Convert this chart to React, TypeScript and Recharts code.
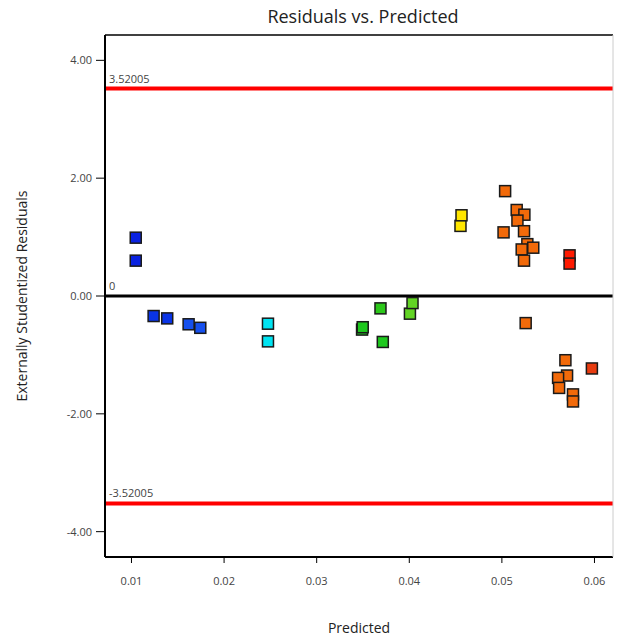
import {
  Cell,
  ReferenceLine,
  Scatter,
  ScatterChart,
  XAxis,
  YAxis,
} from "recharts";

// predicted / externally studentized residual pairs, grouped by marker colour
const blueX = [0.01046, 0.01046, 0.01239, 0.01386, 0.01617, 0.01743];
const blueY = [0.99, 0.6, -0.34, -0.38, -0.48, -0.54];
const cyanX = [0.02474, 0.02474];
const cyanY = [-0.47, -0.77];
const greenX = [0.0349, 0.03497, 0.03689, 0.03714, 0.04007, 0.04035];
const greenY = [-0.57, -0.53, -0.21, -0.78, -0.3, -0.12];
const yellowX = [0.04553, 0.04564];
const yellowY = [1.19, 1.37];
const orangeX = [
  0.05035, 0.05018, 0.0516, 0.05243, 0.05168, 0.05239, 0.05275, 0.05339,
  0.05214, 0.05239, 0.05257, 0.05686, 0.05704, 0.05607, 0.05618, 0.05768,
  0.05768,
];
const orangeY = [
  1.78, 1.08, 1.46, 1.38, 1.28, 1.1, 0.88, 0.82, 0.79, 0.6, -0.46, -1.09,
  -1.35, -1.39, -1.56, -1.67, -1.79,
];
const redX = [0.05731, 0.05731, 0.05972];
const redY = [0.69, 0.55, -1.23];

const xTicks = [0.01, 0.02, 0.03, 0.04, 0.05, 0.06];
const yTicks = [-4, -2, 0, 2, 4];
const xDomain = [0.00714, 0.062];
const yDomain = [-4.43, 4.43];
const limit = 3.52005;

const C = {
  blue: ["#0a22e0", "#0a22e0", "#0a34e6", "#0a34e6", "#1650ee", "#1650ee"],
  cyan: "#00e4f2",
  green: ["#1ec81e", "#1ec81e", "#2cc81a", "#1ec81e", "#62d424", "#62d424"],
  yellow: "#ffe600",
  orange: "#f26a0a",
  red: ["#ff1a00", "#ff1a00", "#e83c10"],
  text: "#444",
};

const zip = (xs: number[], ys: number[]) => xs.map((x, i) => ({ x, y: ys[i] }));

function Square(props: any) {
  const { cx, cy, fill } = props;
  if (cx == null || cy == null) return null;
  return (
    <rect
      x={cx - 5.5}
      y={cy - 5.5}
      width={11}
      height={11}
      fill={fill}
      stroke="#1a1a1a"
      strokeWidth={1.5}
    />
  );
}

const lineLabel = (text: string) => (p: any) => {
  const vb = p.viewBox;
  return (
    <text x={vb.x + 4} y={vb.y - 6} fontSize={11} fill={C.text}>
      {text}
    </text>
  );
};

const font = "'Open Sans', 'Noto Sans', sans-serif";

export default function App() {
  return (
    <div
      style={{
        position: "absolute",
        left: 0,
        top: 0,
        width: 621,
        height: 640,
        background: "#fff",
        fontFamily: font,
      }}
    >
      <div
        style={{
          position: "absolute",
          left: 105,
          width: 516,
          top: 4,
          textAlign: "center",
          fontSize: 18,
          color: "#222",
        }}
      >
        Residuals vs. Predicted
      </div>
      <ScatterChart
        width={621}
        height={640}
        margin={{ top: 35, right: 4, bottom: 33, left: 0 }}
        style={{ fontFamily: font }}
      >
        <XAxis
          type="number"
          dataKey="x"
          domain={xDomain}
          ticks={xTicks}
          tickFormatter={(v: number) => v.toFixed(2)}
          tick={{ fontSize: 11, fill: C.text }}
          tickSize={6}
          tickMargin={14}
          height={50}
          stroke="#000"
          axisLine={{ stroke: "#000", strokeWidth: 2 }}
          label={{
            value: "Predicted",
            position: "insideBottom",
            offset: -26,
            fontSize: 14,
            fill: "#222",
          }}
        />
        <YAxis
          type="number"
          dataKey="y"
          domain={yDomain}
          ticks={yTicks}
          tickFormatter={(v: number) => v.toFixed(2)}
          tick={{ fontSize: 11, fill: C.text }}
          tickSize={9}
          tickMargin={4}
          width={105}
          stroke="#000"
          axisLine={{ stroke: "#000", strokeWidth: 2 }}
          label={{
            value: "Externally Studentized Residuals",
            angle: -90,
            position: "insideLeft",
            offset: 22,
            style: { textAnchor: "middle" },
            fontSize: 14,
            fill: "#222",
          }}
        />
        <YAxis
          yAxisId="right"
          orientation="right"
          type="number"
          dataKey="y"
          domain={yDomain}
          tick={false}
          tickLine={false}
          width={4}
          axisLine={{ stroke: "#ccc", strokeWidth: 1 }}
        />
        <ReferenceLine y={yDomain[1]} stroke="#000" strokeWidth={1.5} />
        <ReferenceLine
          y={limit}
          stroke="#ff0000"
          strokeWidth={4}
          label={lineLabel("3.52005")}
        />
        <ReferenceLine
          y={-limit}
          stroke="#ff0000"
          strokeWidth={4}
          label={lineLabel("-3.52005")}
        />
        <ReferenceLine
          y={0}
          stroke="#000"
          strokeWidth={3}
          label={lineLabel("0")}
        />
        <Scatter data={zip(blueX, blueY)} shape={Square} isAnimationActive={false}>
          {blueX.map((_, i) => (
            <Cell key={i} fill={C.blue[i]} />
          ))}
        </Scatter>
        <Scatter
          data={zip(cyanX, cyanY)}
          fill={C.cyan}
          shape={Square}
          isAnimationActive={false}
        />
        <Scatter data={zip(greenX, greenY)} shape={Square} isAnimationActive={false}>
          {greenX.map((_, i) => (
            <Cell key={i} fill={C.green[i]} />
          ))}
        </Scatter>
        <Scatter
          data={zip(yellowX, yellowY)}
          fill={C.yellow}
          shape={Square}
          isAnimationActive={false}
        />
        <Scatter
          data={zip(orangeX, orangeY)}
          fill={C.orange}
          shape={Square}
          isAnimationActive={false}
        />
        <Scatter data={zip(redX, redY)} shape={Square} isAnimationActive={false}>
          {redX.map((_, i) => (
            <Cell key={i} fill={C.red[i]} />
          ))}
        </Scatter>
      </ScatterChart>
    </div>
  );
}
